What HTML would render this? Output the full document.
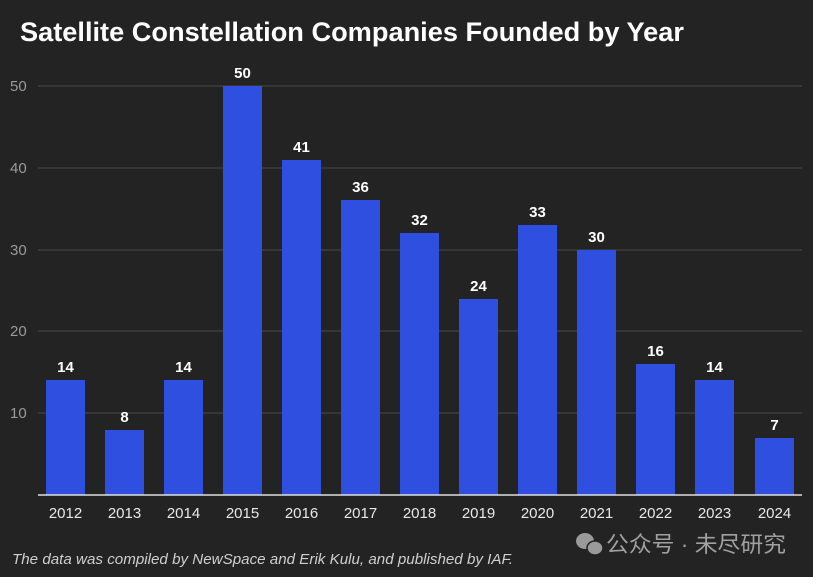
<!DOCTYPE html>
<html><head><meta charset="utf-8"><style>
html,body{margin:0;padding:0;background:#232323;}
svg{display:block;font-family:"Liberation Sans","Noto Sans CJK SC",sans-serif;}
</style></head><body>
<svg width="813" height="577" viewBox="0 0 813 577" xmlns="http://www.w3.org/2000/svg">
<rect width="813" height="577" fill="#232323"/>
<text x="20" y="41" font-size="27" font-weight="bold" fill="#fff" textLength="664" lengthAdjust="spacingAndGlyphs">Satellite Constellation Companies Founded by Year</text>
<g stroke="#4a4a4a" stroke-width="1">
<line x1="38" y1="86" x2="802" y2="86"/><line x1="38" y1="168" x2="802" y2="168"/>
<line x1="38" y1="250" x2="802" y2="250"/><line x1="38" y1="331" x2="802" y2="331"/>
<line x1="38" y1="413" x2="802" y2="413"/>
</g>
<g font-size="15" fill="#9a9a9a" text-anchor="start">
<text x="10" y="91">50</text><text x="10" y="173">40</text><text x="10" y="255">30</text><text x="10" y="336">20</text><text x="10" y="418">10</text>
</g>
<g fill="#2f4fe0">
<rect x="46" y="380" width="39" height="115"/>
<rect x="105" y="430" width="39" height="65"/>
<rect x="164" y="380" width="39" height="115"/>
<rect x="223" y="86" width="39" height="409"/>
<rect x="282" y="160" width="39" height="335"/>
<rect x="341" y="200" width="39" height="295"/>
<rect x="400" y="233" width="39" height="262"/>
<rect x="459" y="299" width="39" height="196"/>
<rect x="518" y="225" width="39" height="270"/>
<rect x="577" y="250" width="39" height="245"/>
<rect x="636" y="364" width="39" height="131"/>
<rect x="695" y="380" width="39" height="115"/>
<rect x="755" y="438" width="39" height="57"/>
</g>
<line x1="38" y1="495" x2="802" y2="495" stroke="#e0e0e0" stroke-width="1.5"/>
<g font-size="15" fill="#fff" text-anchor="middle" font-weight="bold">
<text x="65.5" y="372">14</text><text x="124.5" y="422">8</text><text x="183.5" y="372">14</text>
<text x="242.5" y="78">50</text><text x="301.5" y="152">41</text><text x="360.5" y="192">36</text>
<text x="419.5" y="225">32</text><text x="478.5" y="291">24</text><text x="537.5" y="217">33</text>
<text x="596.5" y="242">30</text><text x="655.5" y="356">16</text><text x="714.5" y="372">14</text>
<text x="774.5" y="430">7</text>
</g>
<g font-size="15" fill="#e8e8e8" text-anchor="middle">
<text x="65.5" y="518">2012</text><text x="124.5" y="518">2013</text><text x="183.5" y="518">2014</text>
<text x="242.5" y="518">2015</text><text x="301.5" y="518">2016</text><text x="360.5" y="518">2017</text>
<text x="419.5" y="518">2018</text><text x="478.5" y="518">2019</text><text x="537.5" y="518">2020</text>
<text x="596.5" y="518">2021</text><text x="655.5" y="518">2022</text><text x="714.5" y="518">2023</text>
<text x="774.5" y="518">2024</text>
</g>
<text x="12" y="564" font-size="15" font-style="italic" fill="#cfcfcf" textLength="501" lengthAdjust="spacingAndGlyphs">The data was compiled by NewSpace and Erik Kulu, and published by IAF.</text>
<g fill="#9a9a9a">
<ellipse cx="585" cy="541" rx="9" ry="8"/>
<ellipse cx="595" cy="548" rx="8" ry="7" stroke="#232323" stroke-width="1.5"/>
</g>
<text x="606" y="552" font-size="22" fill="#a0a0a0" textLength="180" lengthAdjust="spacingAndGlyphs">公众号 · 未尽研究</text>
</svg>
</body></html>
